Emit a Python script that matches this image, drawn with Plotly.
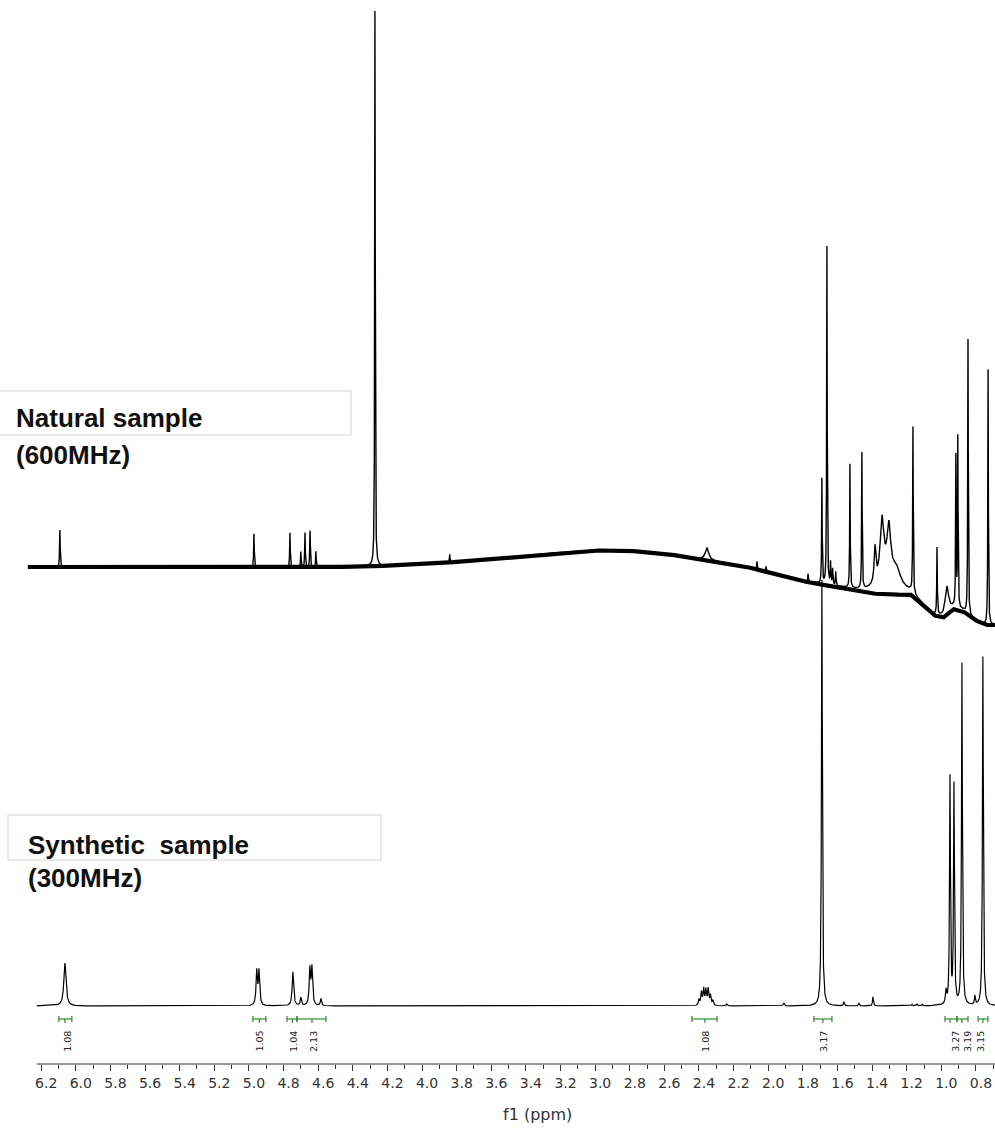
import numpy as np
import plotly.graph_objects as go

# ---------------- data ----------------
# Synthetic sample (300 MHz): peak position (ppm), height, half width (ppm)
syn_ppm = [6.063, 4.955, 4.942, 4.746, 4.700, 4.648, 4.636, 4.584,
           2.400, 2.386, 2.373, 2.360, 2.347, 2.334, 2.320, 2.240, 1.910,
           1.690, 1.563, 1.476, 1.395, 1.170, 1.140, 1.110,
           0.973, 0.950, 0.927, 0.881, 0.806, 0.760]
syn_height = [43, 34, 34, 34, 8, 36, 37, 7,
              6, 13, 16, 15, 16, 10, 5, 2, 3,
              426, 4, 3, 9, 1.5, 2, 1.5,
              13, 227, 219, 342, 9, 349]
syn_hwhm = [0.0075, 0.0045, 0.0045, 0.005, 0.004, 0.0045, 0.0045, 0.004,
            0.004, 0.004, 0.004, 0.004, 0.004, 0.004, 0.004, 0.004, 0.004,
            0.003, 0.003, 0.003, 0.003, 0.003, 0.003, 0.003,
            0.004, 0.003, 0.003, 0.003, 0.003, 0.003]

# Natural sample (600 MHz): peaks above its own baseline
nat_ppm = [6.092, 4.971, 4.763, 4.700, 4.676, 4.647, 4.613, 4.272, 3.840,
           2.354, 2.065, 2.013, 1.770, 1.690, 1.661, 1.640, 1.628, 1.610,
           1.528, 1.459, 1.383, 1.343, 1.320, 1.303, 1.260, 1.164, 1.025,
           0.968, 0.916, 0.905, 0.846, 0.730]
nat_height = [37, 34, 35, 16, 35, 37, 16, 555, 8,
              12, 8, 5, 8, 105, 338, 22, 16, 14,
              124, 136, 35, 56, 20, 46, 18, 166, 67,
              27, 150, 170, 275, 255]
nat_hwhm = [0.002, 0.002, 0.002, 0.002, 0.002, 0.002, 0.002, 0.0018, 0.002,
            0.012, 0.002, 0.002, 0.002, 0.0018, 0.0018, 0.002, 0.002, 0.002,
            0.0018, 0.0018, 0.006, 0.012, 0.05, 0.012, 0.03, 0.0018, 0.0018,
            0.012, 0.0018, 0.0018, 0.0018, 0.0018]

# Natural sample baseline drift (ppm, level relative to its left baseline)
nat_base_ppm = [6.277, 5.572, 4.705, 4.243, 3.954, 3.665, 3.377, 3.088, 2.857,
                2.626, 2.510, 2.319, 2.123, 1.932, 1.776, 1.545, 1.430, 1.297,
                1.181, 1.124, 1.048, 0.991, 0.933, 0.875, 0.817, 0.748, 0.690]
nat_base_level = [0, 0, -1, 1, 3, 7, 12, 16, 17,
                  14, 11, 6, 0, -8, -15, -22, -26, -28,
                  -27, -36, -48, -51, -42, -44, -52, -58, -58]

# Integrations of the synthetic sample
int_start = [6.098, 4.977, 4.780, 4.722, 2.441, 1.736, 0.979, 0.910, 0.788]
int_end = [6.023, 4.902, 4.722, 4.555, 2.296, 1.632, 0.910, 0.846, 0.731]
int_mid = [6.063, 4.940, 4.749, 4.636, 2.366, 1.684, 0.950, 0.881, 0.760]
int_value = ["1.08", "1.05", "1.04", "2.13", "1.08", "3.17", "3.27", "3.19", "3.15"]
int_label_ppm = [6.052, 4.944, 4.746, 4.630, 2.366, 1.684, 0.922, 0.852, 0.777]

tick_vals = [6.2, 6.0, 5.8, 5.6, 5.4, 5.2, 5.0, 4.8, 4.6, 4.4, 4.2, 4.0, 3.8,
             3.6, 3.4, 3.2, 3.0, 2.8, 2.6, 2.4, 2.2, 2.0, 1.8, 1.6, 1.4, 1.2,
             1.0, 0.8]
tick_text = ["6.2", "6.0", "5.8", "5.6", "5.4", "5.2", "5.0", "4.8", "4.6",
             "4.4", "4.2", "4.0", "3.8", "3.6", "3.4", "3.2", "3.0", "2.8",
             "2.6", "2.4", "2.2", "2.0", "1.8", "1.6", "1.4", "1.2", "1.0", "0.8"]
minor_vals = [6.1, 5.9, 5.7, 5.5, 5.3, 5.1, 4.9, 4.7, 4.5, 4.3, 4.1, 3.9, 3.7,
              3.5, 3.3, 3.1, 2.9, 2.7, 2.5, 2.3, 2.1, 1.9, 1.7, 1.5, 1.3, 1.1,
              0.9, 0.7]

# ---------------- layout constants ----------------
W, H = 995, 1128
AXIS_ROW = 1064              # pixel row of the x axis
PLOT_H = AXIS_ROW
NAT_OFFSET = 439             # vertical offset of the natural spectrum
X_RANGE = [6.438, 0.690]
Y_RANGE = [-58, 1006]


def lorentz_sum(x, centers, heights, widths):
    y = np.zeros_like(x)
    for c, h, w in zip(centers, heights, widths):
        y += h / (1.0 + ((x - c) / w) ** 2)
    return y


x_syn = np.arange(6.225, 0.690, -0.0005)
y_syn = lorentz_sum(x_syn, syn_ppm, syn_height, syn_hwhm)

x_nat = np.arange(6.277, 0.690, -0.0005)
base_nat = np.interp(x_nat, nat_base_ppm[::-1], nat_base_level[::-1])
y_nat = NAT_OFFSET + base_nat + lorentz_sum(x_nat, nat_ppm, nat_height, nat_hwhm)

fig = go.Figure()

# noisy baseline band of the natural spectrum
fig.add_trace(go.Scatter(x=x_nat, y=NAT_OFFSET + base_nat, mode="lines",
                         line=dict(color="black", width=4.2), hoverinfo="skip",
                         showlegend=False))
fig.add_trace(go.Scatter(x=x_nat, y=y_nat, mode="lines",
                         line=dict(color="black", width=1.4), hoverinfo="skip",
                         showlegend=False))
fig.add_trace(go.Scatter(x=x_syn, y=y_syn, mode="lines",
                         line=dict(color="black", width=1.2), hoverinfo="skip",
                         showlegend=False))

# integration brackets
bx, by = [], []
YB = -13
for s, e, m in zip(int_start, int_end, int_mid):
    bx += [s, e, None, s, s, None, e, e, None, m, m, None]
    by += [YB, YB, None, YB - 3, YB + 3, None, YB - 3, YB + 3, None, YB, YB - 4, None]
fig.add_trace(go.Scatter(x=bx, y=by, mode="lines",
                         line=dict(color="#2f8a2f", width=1.2), hoverinfo="skip",
                         showlegend=False))

annotations = []
for xp, txt in zip(int_label_ppm, int_value):
    annotations.append(dict(x=xp, y=-35, xref="x", yref="y", text=txt,
                            textangle=-90, showarrow=False,
                            font=dict(family="DejaVu Sans", size=9.5, color="#222")))


def py(p):
    return (AXIS_ROW - p) / PLOT_H


def px(p):
    return p / W


label_font = dict(family="Liberation Sans", size=26, color="#111", weight="bold")
annotations += [
    dict(x=px(14), y=py(418), xref="paper", yref="paper", xanchor="left",
         yanchor="middle", text="Natural sample", showarrow=False, font=label_font),
    dict(x=px(14), y=py(455), xref="paper", yref="paper", xanchor="left",
         yanchor="middle", text="(600MHz)", showarrow=False, font=label_font),
    dict(x=px(26), y=py(845), xref="paper", yref="paper", xanchor="left",
         yanchor="middle", text="Synthetic\u00a0 sample", showarrow=False, font=label_font),
    dict(x=px(26), y=py(878), xref="paper", yref="paper", xanchor="left",
         yanchor="middle", text="(300MHz)", showarrow=False, font=label_font),
    dict(x=px(537), y=py(1114), xref="paper", yref="paper", xanchor="center",
         yanchor="middle", text="f1 (ppm)", showarrow=False,
         font=dict(family="DejaVu Sans", size=16, color="#333")),
]

shapes = [
    dict(type="path", xref="paper", yref="paper",
         path="M %f %f L %f %f L %f %f L %f %f" % (px(-1), py(391), px(351), py(391),
                                                   px(351), py(435), px(-1), py(435)),
         line=dict(color="#d2d2d2", width=1)),
    dict(type="rect", xref="paper", yref="paper", x0=px(8), x1=px(381),
         y0=py(860), y1=py(815), line=dict(color="#d2d2d2", width=1)),
    dict(type="line", xref="x", yref="paper", x0=6.225, x1=X_RANGE[1],
         y0=0, y1=0, line=dict(color="#333", width=1)),
]

fig.update_layout(
    width=W, height=H,
    margin=dict(l=0, r=0, t=0, b=H - PLOT_H),
    paper_bgcolor="white", plot_bgcolor="white",
    showlegend=False,
    annotations=annotations,
    shapes=shapes,
    xaxis=dict(range=X_RANGE, showgrid=False, zeroline=False, showline=False,
               tickmode="array", tickvals=tick_vals, ticktext=tick_text,
               ticks="outside", ticklen=6, tickwidth=1, tickcolor="#333",
               ticklabelshift=-5,
               tickfont=dict(family="DejaVu Sans", size=14, color="#333"),
               minor=dict(tickmode="array", tickvals=minor_vals, ticks="outside",
                          ticklen=4, tickwidth=1, tickcolor="#333", showgrid=False)),
    yaxis=dict(range=Y_RANGE, visible=False, showgrid=False, zeroline=False),
)

fig.write_html("out.html",
               config={"displayModeBar": False},
               post_script="document.body.style.margin='0';"
                           "document.body.style.overflow='hidden';")
